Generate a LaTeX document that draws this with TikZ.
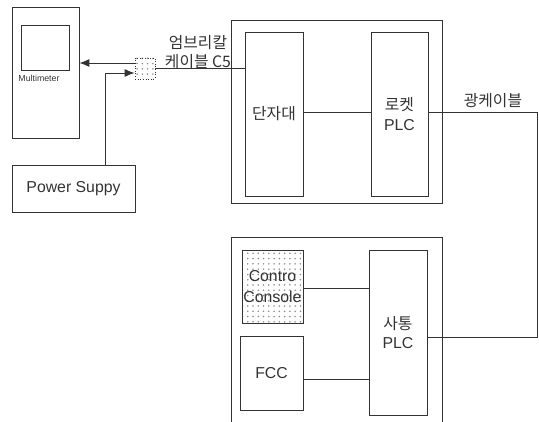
\documentclass[tikz,border=0pt]{standalone}
\usepackage{fontspec}
\setmainfont{Liberation Sans}
\newfontfamily\kr{Noto Sans CJK KR}
\usetikzlibrary{arrows.meta, positioning, patterns}
\definecolor{lineGray}{HTML}{333333}

\begin{document}
\begin{tikzpicture}[x=0.02cm, y=-0.02cm,
    blk/.style={draw=lineGray, line width=0.5pt, inner sep=0pt, align=center,
      font=\fontsize{9}{11}\selectfont, text=black!80},
    dotfill/.style={pattern=dots, pattern color=black!45},
    wire/.style={draw=lineGray, line width=0.5pt},
    arr/.style={wire, -{Latex[length=2mm, width=1.6mm]}}]
    \useasboundingbox (0,0) rectangle (539,422);
    \clip (0,0) rectangle (539,422);

    % measuring side
    \node[blk, minimum width=1.34cm, minimum height=2.62cm] (mm) at (45.5,72.5) {};
    \node[blk, minimum width=0.96cm, minimum height=0.9cm] (scr) at (45,47.5) {};
    \node[font=\tiny, text=black!80] (mmlbl) at (39,78) {Multimeter};
    \node[blk, minimum width=2.46cm, minimum height=0.94cm] (ps) at (73.5,188.5) {Power Suppy};
    \node[blk, densely dotted, dotfill, minimum width=0.4cm, minimum height=0.42cm] (conn) at (145,68.5) {};
    \node[font=\kr\small, align=center, text=black!80] (cbl) at (198,52) {엄브리칼\\[0pt]케이블 C5};

    % rocket side
    \node[blk, minimum width=4.22cm, minimum height=3.66cm] (rbox) at (336.5,111.5) {};
    \node[blk, minimum width=1.16cm, minimum height=3.28cm] (tb) at (274,114) {\kr 단자대};
    \node[blk, minimum width=1.14cm, minimum height=3.28cm] (rplc) at (399.5,114) {{\kr 로켓}\\PLC};
    \node[font=\kr\small, text=black!80] (fib) at (493,101) {광케이블};

    % fire control side
    \node[blk, anchor=north west, minimum width=4.22cm, minimum height=4.5cm] (fbox) at (231,237) {};
    \node[blk, dotfill, minimum width=1.22cm, minimum height=1.46cm] (cc) at (272.5,286.5) {Contro\\[1pt]Console};
    \node[blk, minimum width=1.26cm, minimum height=1.48cm] (fcc) at (271.5,373) {FCC};
    \node[blk, minimum width=1.16cm, minimum height=3.3cm] (splc) at (398,332.5) {{\kr 사통}\\PLC};

    \coordinate (fo) at (537,112);

    \draw[arr] ([yshift=0.11cm]conn.west) -- ([yshift=0.11cm]conn.west -| mm.east);
    \draw[arr] ([xshift=0.63cm]ps.north) |- ([yshift=-0.09cm]conn.west);
    \draw[wire] (conn.east) -- (conn.east -| tb.west);
    \draw[wire] ([yshift=0.04cm]tb.east) -- ([yshift=0.04cm]rplc.west);
    \draw[wire] (rplc.east |- fo) -- (fo) |- ([yshift=-0.09cm]splc.east);
    \draw[wire] ([yshift=-0.03cm]cc.east) -- ([yshift=-0.03cm]cc.east -| splc.west);
    \draw[wire] ([yshift=-0.12cm]fcc.east) -- ([yshift=-0.12cm]fcc.east -| splc.west);
\end{tikzpicture}
\end{document}
